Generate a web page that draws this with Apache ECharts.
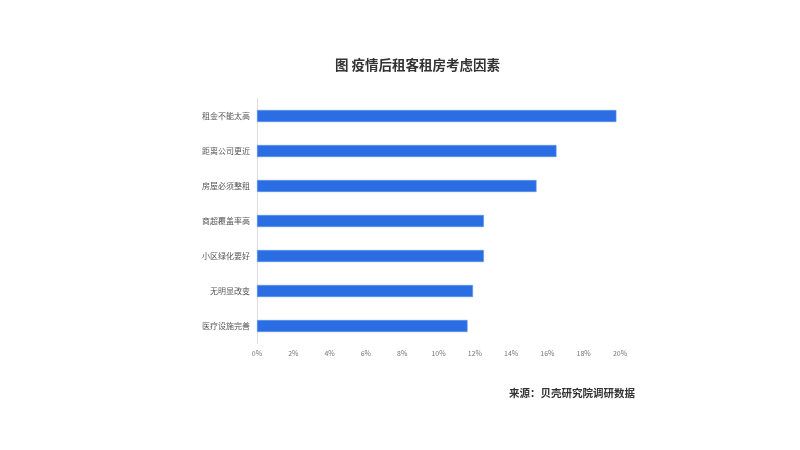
<!DOCTYPE html>
<html><head><meta charset="utf-8">
<script src="https://cdn.jsdelivr.net/npm/echarts@6/dist/echarts.min.js"></script>
<style>html,body{margin:0;padding:0;background:#fff}#c{width:800px;height:450px}</style>
</head><body><div id="c"></div>
<script>
var categories = ['租金不能太高','距离公司更近','房屋必须整租','商超覆盖率高','小区绿化要好','无明显改变','医疗设施完善'];
var values = [19.8, 16.5, 15.4, 12.5, 12.5, 11.9, 11.6];
var titleText = '图 疫情后租客租房考虑因素';
var sourceText = '来源：贝壳研究院调研数据';
var font = '"Noto Sans CJK SC", sans-serif';
var chart = echarts.init(document.getElementById('c'));
chart.setOption({
  animation: false,
  backgroundColor: '#fff',
  title: [{
    text: titleText, left: 330, top: 53, padding: 5,
    textStyle: {fontFamily: font, fontSize: 13.5, fontWeight: 'bold', color: '#333'}
  }, {
    text: sourceText, right: 160, top: 383, padding: 5,
    textStyle: {fontFamily: font, fontSize: 10.5, fontWeight: 'bold', color: '#333'}
  }],
  grid: {left: 257, right: 180, top: 98.5, bottom: 106.5, containLabel: false},
  xAxis: {
    type: 'value', min: 0, max: 20, interval: 2,
    axisLine: {show: false}, axisTick: {show: false}, splitLine: {show: false},
    axisLabel: {formatter: '{value}%', fontFamily: font, fontSize: 7, color: '#777', margin: 6}
  },
  yAxis: {
    type: 'category', data: categories, inverse: true,
    axisLine: {show: true, lineStyle: {color: '#ddd'}}, axisTick: {show: false},
    axisLabel: {fontFamily: font, fontSize: 8, color: '#555', margin: 7}
  },
  series: [{
    type: 'bar', data: values, barWidth: 12,
    itemStyle: {color: '#2b6de3', borderColor: '#5b94ec', borderWidth: 0.6}
  }]
});
</script></body></html>
